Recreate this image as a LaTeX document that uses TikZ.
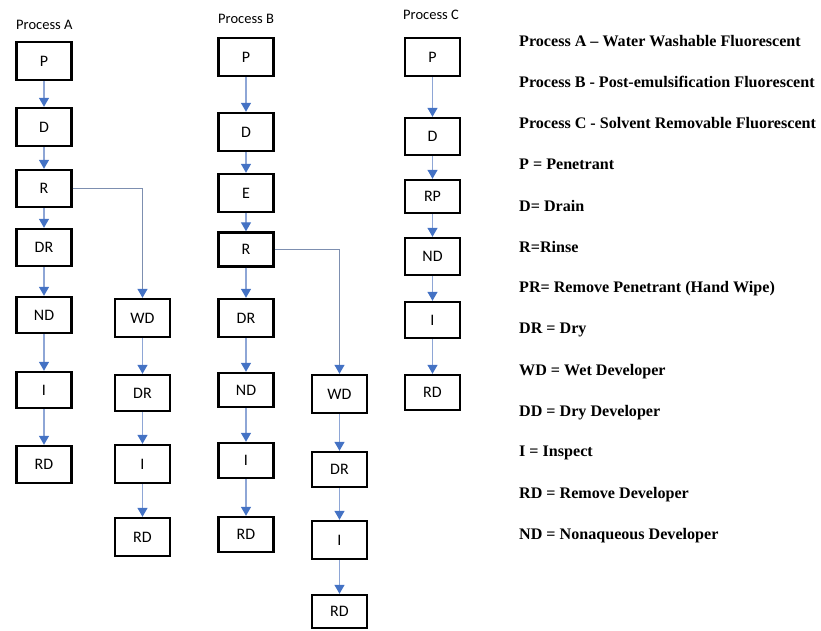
\documentclass[tikz,border=0pt]{standalone}
\usepackage{fontspec}
\setmainfont{Liberation Serif}
\newfontfamily\carlito{Carlito}
\usetikzlibrary{arrows.meta}
\definecolor{shaft}{HTML}{8EA6D6}
\definecolor{head}{HTML}{4472C4}
\definecolor{branch}{HTML}{7D8FB0}
\tikzset{
  box/.style={draw=black, line width=2.4pt, minimum width=55pt, minimum height=36pt, inner sep=0pt,
    font=\carlito\fontsize{16}{18}\selectfont},
  flow/.style={draw=shaft, line width=1.2pt, -{Triangle[width=10pt,length=9pt,color=head]}},
  bflow/.style={draw=branch, line width=1.2pt, -{Triangle[width=10pt,length=9pt,color=head]}},
  ptitle/.style={anchor=west, inner sep=0pt, font=\carlito\fontsize{14.5}{16}\selectfont},
  legend/.style={anchor=west, inner sep=0pt, font=\bfseries\fontsize{16.1}{18}\selectfont}
}
\begin{document}
\begin{tikzpicture}[x=1pt, y=-1pt]
\useasboundingbox (0,0) rectangle (821,630);
% titles
\node[ptitle] (tA) at (16,25) {Process A};
\node[ptitle] (tB) at (218,19) {Process B};
\node[ptitle] (tC) at (403,15) {Process C};
% Process A
\node[box, minimum height=38pt] (aP) at (44,61) {P};
\node[box, minimum height=38pt] (aD) at (44,127) {D};
\node[box, minimum height=37pt] (aR) at (44,188.5) {R};
\node[box, minimum height=37pt] (aDR) at (44,247.5) {DR};
\node[box] (aND) at (44,315) {ND};
\node[box] (aI) at (44,390) {I};
\node[box, minimum height=37pt] (aRD) at (44,464.5) {RD};
\node[box, minimum height=38pt] (aWD) at (142.5,318) {WD};
\node[box] (aDR2) at (142.5,393) {DR};
\node[box, minimum height=38pt] (aI2) at (142.5,464) {I};
\node[box, minimum height=38pt] (aRD2) at (142.5,537) {RD};
\draw[flow] (aP) -- (aD);
\draw[flow] (aD) -- (aR);
\draw[flow] (aR) -- (aDR);
\draw[flow] (aDR) -- (aND);
\draw[flow] (aND) -- (aI);
\draw[flow] (aI) -- (aRD);
\draw[bflow] (aR.east) -| (aWD.north);
\draw[flow] (aWD) -- (aDR2);
\draw[flow] (aDR2) -- (aI2);
\draw[flow] (aI2) -- (aRD2);
% Process B
\node[box, minimum height=38pt] (bP) at (246,57) {P};
\node[box, minimum height=38pt] (bD) at (246,132) {D};
\node[box, minimum height=38pt] (bE) at (246,193) {E};
\node[box, minimum height=34pt] (bR) at (246,249.5) {R};
\node[box, minimum height=38pt] (bDR) at (246,318) {DR};
\node[box, minimum height=34pt] (bND) at (246,390) {ND};
\node[box, minimum height=35pt] (bI) at (246,460.5) {I};
\node[box, minimum height=35pt] (bRD) at (246,534.5) {RD};
\node[box, minimum height=38pt] (bWD) at (339.5,394) {WD};
\node[box, minimum height=35pt] (bDR2) at (339.5,469.5) {DR};
\node[box, minimum height=38pt] (bI2) at (339.5,540) {I};
\node[box, minimum height=33pt] (bRD2) at (339.5,611.5) {RD};
\draw[flow] (bP) -- (bD);
\draw[flow] (bD) -- (bE);
\draw[flow] (bE) -- (bR);
\draw[flow] (bR) -- (bDR);
\draw[flow] (bDR) -- (bND);
\draw[flow] (bND) -- (bI);
\draw[flow] (bI) -- (bRD);
\draw[bflow] (bR.east) -| (bWD.north);
\draw[flow] (bWD) -- (bDR2);
\draw[flow] (bDR2) -- (bI2);
\draw[flow] (bI2) -- (bRD2);
% Process C
\node[box, minimum height=38pt] (cP) at (432.5,57) {P};
\node[box, minimum height=37pt] (cD) at (432.5,136.5) {D};
\node[box, minimum height=33pt] (cRP) at (432.5,196.5) {RP};
\node[box, minimum height=37pt] (cND) at (432.5,256.5) {ND};
\node[box, minimum height=36pt] (cI) at (432.5,320) {I};
\node[box, minimum height=35pt] (cRD) at (432.5,392.5) {RD};
\draw[flow] (cP) -- (cD);
\draw[flow] (cD) -- (cRP);
\draw[flow] (cRP) -- (cND);
\draw[flow] (cND) -- (cI);
\draw[flow] (cI) -- (cRD);
% legend
\node[legend] (l1) at (519,41) {Process A -- Water Washable Fluorescent};
\node[legend] (l2) at (519,82) {Process B - Post-emulsification Fluorescent};
\node[legend] (l3) at (519,123) {Process C - Solvent Removable Fluorescent};
\node[legend] (l4) at (519,164) {P = Penetrant};
\node[legend] (l5) at (519,206) {D= Drain};
\node[legend] (l6) at (519,247) {R=Rinse};
\node[legend] (l7) at (519,289) {PR= Remove Penetrant (Hand Wipe)};
\node[legend] (l8) at (519,330) {DR = Dry};
\node[legend] (l9) at (519,372) {WD = Wet Developer};
\node[legend] (l10) at (519,413) {DD = Dry Developer};
\node[legend] (l11) at (519,453) {I = Inspect};
\node[legend] (l12) at (519,495) {RD = Remove Developer};
\node[legend] (l13) at (519,536) {ND = Nonaqueous Developer};
\end{tikzpicture}
\end{document}
